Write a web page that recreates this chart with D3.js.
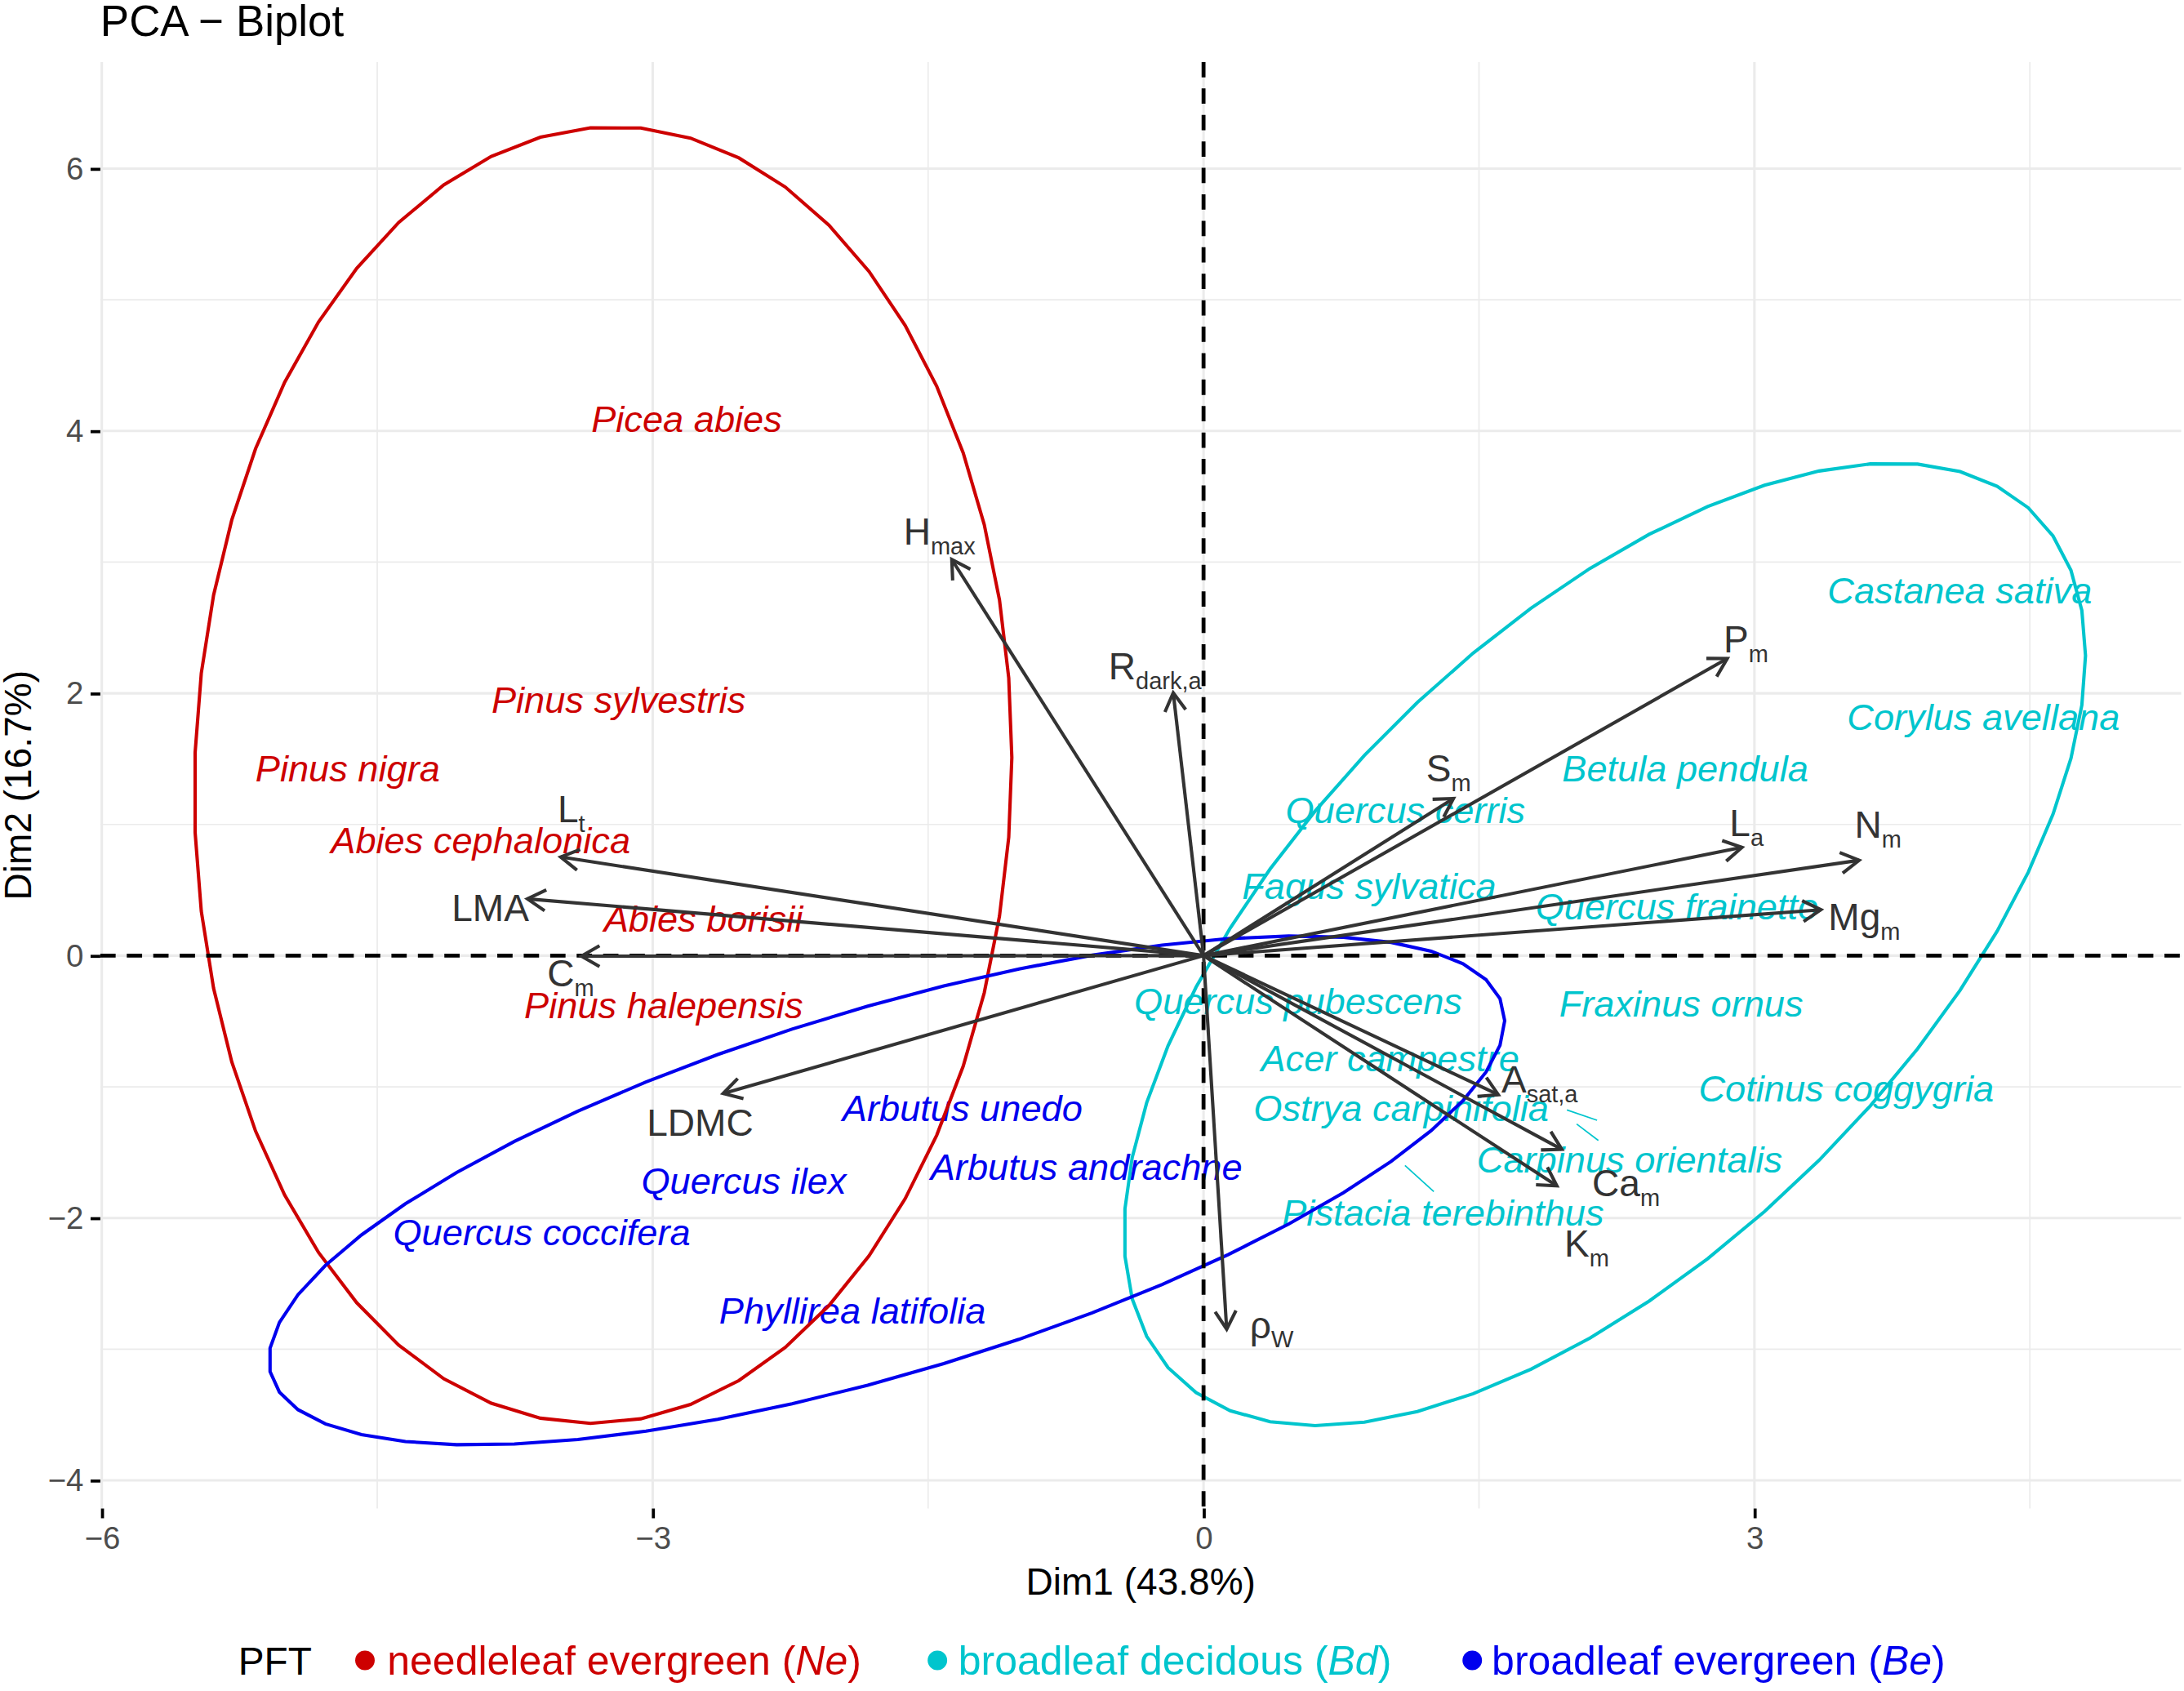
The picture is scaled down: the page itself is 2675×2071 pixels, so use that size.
<!DOCTYPE html>
<html>
<head>
<meta charset="utf-8">
<script src="https://cdn.jsdelivr.net/npm/d3@7"></script>
<style>
body { margin: 0; background: #ffffff; }
</style>
</head>
<body>
<svg id="chart"></svg>
<script>
// axis limits and ticks
var xLimits = [-6.008, 5.324];
var yLimits = [-4.215, 6.813];
var xMajor = [-6, -3, 0, 3];
var xMinor = [-4.5, -1.5, 1.5, 4.5];
var yMajor = [-4, -2, 0, 2, 4, 6];
var yMinor = [-3, -1, 1, 3, 5];

// plant functional types
var groupCodes = ["Ne", "Bd", "Be"];
var groupNames = ["needleleaf evergreen", "broadleaf decidous", "broadleaf evergreen"];
var groupColors = ["#CD0000", "#00C5CD", "#0000EE"];

// species labels (repelled label positions, Dim1 / Dim2)
var speciesNames = ["Picea abies", "Pinus sylvestris", "Pinus nigra", "Abies cephalonica", "Abies borisii", "Pinus halepensis",
  "Arbutus unedo", "Arbutus andrachne", "Quercus ilex", "Quercus coccifera", "Phyllirea latifolia",
  "Castanea sativa", "Corylus avellana", "Betula pendula", "Quercus cerris", "Fagus sylvatica", "Quercus frainetto",
  "Quercus pubescens", "Fraxinus ornus", "Acer campestre", "Ostrya carpinifolia", "Cotinus coggygria",
  "Carpinus orientalis", "Pistacia terebinthus"];
var speciesGroup = ["Ne", "Ne", "Ne", "Ne", "Ne", "Ne",
  "Be", "Be", "Be", "Be", "Be",
  "Bd", "Bd", "Bd", "Bd", "Bd", "Bd", "Bd", "Bd", "Bd", "Bd", "Bd", "Bd", "Bd"];
var speciesX = [-2.815, -3.186, -4.661, -3.937, -2.724, -2.940,
  -1.313, -0.638, -2.504, -3.604, -1.912,
  4.118, 4.247, 2.623, 1.099, 0.902, 2.578, 0.515, 2.601, 1.016, 1.076, 3.500, 2.320, 1.304];
var speciesY = [3.994, 1.849, 1.329, 0.782, 0.182, -0.477,
  -1.263, -1.709, -1.815, -2.208, -2.802,
  2.688, 1.722, 1.328, 1.010, 0.431, 0.277, -0.445, -0.466, -0.880, -1.263, -1.114, -1.655, -2.059];

// label-to-point connector segments (Bd)
var segX1 = [1.979, 2.032, 1.097];
var segY1 = [-1.176, -1.284, -1.599];
var segX2 = [2.143, 2.150, 1.254];
var segY2 = [-1.255, -1.409, -1.799];

// variables: arrow tips and label positions
var varMain = ["H", "R", "S", "P", "L", "N", "Mg", "A", "Ca", "K", "ρ", "LDMC", "C", "LMA", "L"];
var varSub = ["max", "dark,a", "m", "m", "a", "m", "m", "sat,a", "m", "m", "W", "", "m", "", "t"];
var varX = [-1.371, -0.165, 1.361, 2.852, 2.932, 3.570, 3.362, 1.605, 1.951, 1.924, 0.126, -2.616, -3.388, -3.682, -3.501];
var varY = [3.020, 2.004, 1.198, 2.265, 0.826, 0.727, 0.350, -1.060, -1.477, -1.755, -2.848, -1.051, -0.004, 0.433, 0.752];
var varLabelX = [-1.438, -0.264, 1.334, 2.954, 2.957, 3.673, 3.598, 1.830, 2.301, 2.087, 0.371, -2.742, -3.447, -3.884, -3.443];
var varLabelY = [3.131, 2.107, 1.328, 2.312, 0.911, 0.898, 0.195, -1.045, -1.834, -2.297, -2.914, -1.374, -0.235, 0.267, 1.017];

// concentration ellipses per group (Ne, Bd, Be): centre, half extents, correlation
var ellipseCx = [-3.27, 2.185, -1.725];
var ellipseCy = [1.377, 0.086, -1.79];
var ellipseRx = [2.226, 2.618, 3.365];
var ellipseRy = [4.943, 3.669, 1.94];
var ellipseR = [0.027, 0.60, 0.667];

var FONT = "'Liberation Sans', Arial, Helvetica, sans-serif";
var W = 1568, H = 1214;
var svg = d3.select("#chart")
  .attr("width", 2675).attr("height", 2071)
  .attr("viewBox", "0 0 " + W + " " + H);
svg.append("rect").attr("width", W).attr("height", H).attr("fill", "#ffffff");

var panel = {left: 72, right: 1566, top: 44.5, bottom: 1083};
var x = d3.scaleLinear().domain(xLimits).range([panel.left, panel.right]);
var y = d3.scaleLinear().domain(yLimits).range([panel.bottom, panel.top]);
var colorOf = d3.scaleOrdinal().domain(groupCodes).range(groupColors);

// grid
var grid = svg.append("g");
grid.selectAll(".xminor").data(xMinor).enter().append("line")
  .attr("x1", d => x(d)).attr("x2", d => x(d)).attr("y1", panel.top).attr("y2", panel.bottom)
  .attr("stroke", "#EBEBEB").attr("stroke-width", 1.0);
grid.selectAll(".yminor").data(yMinor).enter().append("line")
  .attr("y1", d => y(d)).attr("y2", d => y(d)).attr("x1", panel.left).attr("x2", panel.right)
  .attr("stroke", "#EBEBEB").attr("stroke-width", 1.0);
grid.selectAll(".xmajor").data(xMajor).enter().append("line")
  .attr("x1", d => x(d)).attr("x2", d => x(d)).attr("y1", panel.top).attr("y2", panel.bottom)
  .attr("stroke", "#EBEBEB").attr("stroke-width", 1.8);
grid.selectAll(".ymajor").data(yMajor).enter().append("line")
  .attr("y1", d => y(d)).attr("y2", d => y(d)).attr("x1", panel.left).attr("x2", panel.right)
  .attr("stroke", "#EBEBEB").attr("stroke-width", 1.8);

// axes
var xAxis = svg.append("g").attr("transform", "translate(0," + panel.bottom + ")")
  .call(d3.axisBottom(x).tickValues(xMajor).tickSize(7).tickSizeOuter(0).tickPadding(6));
var yAxis = svg.append("g").attr("transform", "translate(" + panel.left + ",0)")
  .call(d3.axisLeft(y).tickValues(yMajor).tickSize(7).tickSizeOuter(0).tickPadding(5));
[xAxis, yAxis].forEach(function(a) {
  a.select(".domain").remove();
  a.attr("font-family", FONT).attr("font-size", 22.5);
  a.selectAll(".tick line").attr("stroke", "#000").attr("stroke-width", 2.2);
  a.selectAll(".tick text").attr("fill", "#4D4D4D");
});

// species labels
svg.append("g").selectAll("text").data(speciesNames).enter().append("text")
  .attr("x", (d, i) => x(speciesX[i]))
  .attr("y", (d, i) => y(speciesY[i]))
  .attr("text-anchor", "middle")
  .attr("font-family", FONT).attr("font-size", 26.5).attr("font-style", "italic")
  .attr("fill", (d, i) => colorOf(speciesGroup[i]))
  .text(d => d);

// ellipses
var line = d3.line().x(p => x(p[0])).y(p => y(p[1]));
groupCodes.forEach(function(g, k) {
  var phi = Math.asin(ellipseR[k]);
  var pts = d3.range(51).map(function(j) {
    var t = 2 * Math.PI * j / 51;
    return [ellipseCx[k] + ellipseRx[k] * Math.cos(t), ellipseCy[k] + ellipseRy[k] * Math.sin(t + phi)];
  });
  svg.append("path").attr("d", line(pts) + "Z")
    .attr("fill", "none").attr("stroke", groupColors[k]).attr("stroke-width", 2.4);
});

// connector segments
svg.append("g").selectAll("line").data(segX1).enter().append("line")
  .attr("x1", (d, i) => x(segX1[i])).attr("y1", (d, i) => y(segY1[i]))
  .attr("x2", (d, i) => x(segX2[i])).attr("y2", (d, i) => y(segY2[i]))
  .attr("stroke", colorOf("Bd")).attr("stroke-width", 1.0);

// reference lines
svg.append("line").attr("x1", x(0)).attr("x2", x(0)).attr("y1", panel.top).attr("y2", panel.bottom)
  .attr("stroke", "#000").attr("stroke-width", 2.8).attr("stroke-dasharray", "11,8");
svg.append("line").attr("y1", y(0)).attr("y2", y(0)).attr("x1", panel.left).attr("x2", panel.right)
  .attr("stroke", "#000").attr("stroke-width", 2.8).attr("stroke-dasharray", "11,8");

// variable arrows
var arrows = svg.append("g").attr("stroke", "#333333").attr("stroke-width", 2.4).attr("fill", "none")
  .attr("stroke-linecap", "butt");
varMain.forEach(function(v, i) {
  var x0 = x(0), y0 = y(0), x1 = x(varX[i]), y1 = y(varY[i]);
  arrows.append("line").attr("x1", x0).attr("y1", y0).attr("x2", x1).attr("y2", y1);
  var ang = Math.atan2(y1 - y0, x1 - x0), L = 15, a = Math.PI / 6;
  var p1 = [x1 - L * Math.cos(ang - a), y1 - L * Math.sin(ang - a)];
  var p2 = [x1 - L * Math.cos(ang + a), y1 - L * Math.sin(ang + a)];
  arrows.append("path").attr("d", "M" + p1 + "L" + [x1, y1] + "L" + p2)
    .attr("stroke-linejoin", "miter");
});

var vlab = svg.append("g").selectAll("text").data(varMain).enter().append("text")
  .attr("x", (d, i) => x(varLabelX[i]))
  .attr("y", (d, i) => y(varLabelY[i]))
  .attr("text-anchor", "middle")
  .attr("font-family", FONT).attr("font-size", 27).attr("fill", "#333333");
vlab.append("tspan").text(d => d);
vlab.append("tspan").attr("font-size", 17).attr("dy", 7).text((d, i) => varSub[i]);

// titles
svg.append("text").attr("x", 72).attr("y", 26).attr("font-family", FONT).attr("font-size", 31)
  .attr("fill", "#000").text("PCA − Biplot");
svg.append("text").attr("x", (panel.left + panel.right) / 2).attr("y", 1145)
  .attr("text-anchor", "middle").attr("font-family", FONT).attr("font-size", 27)
  .attr("fill", "#000").text("Dim1 (43.8%)");
svg.append("text").attr("transform", "translate(22," + (panel.top + panel.bottom) / 2 + ") rotate(-90)")
  .attr("text-anchor", "middle").attr("font-family", FONT).attr("font-size", 27)
  .attr("fill", "#000").text("Dim2 (16.7%)");

// legend
var legY = 1202;
svg.append("text").attr("x", 171).attr("y", legY).attr("font-family", FONT).attr("font-size", 28)
  .attr("fill", "#000").text("PFT");
var dotX = [262, 673, 1057];
var textX = [278, 688, 1071];
groupCodes.forEach(function(g, k) {
  svg.append("circle").attr("cx", dotX[k]).attr("cy", legY - 10).attr("r", 7).attr("fill", groupColors[k]);
  var t = svg.append("text").attr("x", textX[k]).attr("y", legY).attr("font-family", FONT)
    .attr("font-size", 29.3).attr("fill", groupColors[k]);
  t.append("tspan").text(groupNames[k] + " (");
  t.append("tspan").attr("font-style", "italic").text(g);
  t.append("tspan").text(")");
});
</script>
</body>
</html>
